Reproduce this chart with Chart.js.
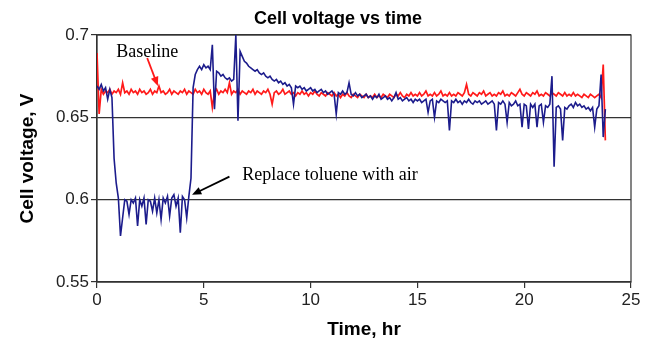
<!DOCTYPE html>
<html>
<head>
<meta charset="utf-8">
<script src="https://cdn.jsdelivr.net/npm/chart.js@4/dist/chart.umd.min.js"></script>
<style>
  html, body { margin: 0; padding: 0; background: #fff; }
  #wrap { width: 656px; height: 342px; }
</style>
</head>
<body>
<div id="wrap"><canvas id="cellChart" width="656" height="342"></canvas></div>
<script>
// sampling step of the readings, hours
const STEP = 0.1;

// toluene run (blue), one reading per 0.1 hr from t = 0
const tolueneV = [
  0.669, 0.667, 0.670, 0.666, 0.668, 0.661, 0.667, 0.662, 0.625, 0.610,
  0.601, 0.578, 0.589, 0.600, 0.599, 0.591, 0.600, 0.598, 0.601, 0.584,
  0.600, 0.596, 0.601, 0.585, 0.600, 0.599, 0.593, 0.601, 0.592, 0.600,
  0.588, 0.601, 0.598, 0.602, 0.590, 0.601, 0.603, 0.596, 0.601, 0.580,
  0.602, 0.600, 0.589, 0.602, 0.613, 0.668, 0.676, 0.679, 0.681, 0.679,
  0.682, 0.680, 0.681, 0.679, 0.694, 0.655, 0.678, 0.677, 0.675, 0.676,
  0.674, 0.673, 0.674, 0.672, 0.673, 0.700, 0.648, 0.690, 0.687, 0.684,
  0.683, 0.681, 0.680, 0.679, 0.678, 0.679, 0.677, 0.676, 0.677, 0.675,
  0.674, 0.675, 0.673, 0.672, 0.673, 0.671, 0.672, 0.670, 0.671, 0.669,
  0.670, 0.668, 0.658, 0.669, 0.668, 0.669, 0.667, 0.668, 0.666, 0.667,
  0.668, 0.666, 0.667, 0.665, 0.666, 0.667, 0.665, 0.666, 0.664, 0.665,
  0.666, 0.664, 0.652, 0.665, 0.664, 0.666, 0.664, 0.665, 0.671, 0.664,
  0.663, 0.665, 0.663, 0.664, 0.662, 0.663, 0.664, 0.662, 0.663, 0.661,
  0.663, 0.662, 0.664, 0.661, 0.662, 0.663, 0.661, 0.662, 0.660, 0.662,
  0.665, 0.661, 0.662, 0.660, 0.661, 0.662, 0.660, 0.661, 0.659, 0.661,
  0.660, 0.661, 0.659, 0.660, 0.661, 0.653, 0.660, 0.661, 0.650, 0.660,
  0.659, 0.661, 0.660, 0.659, 0.660, 0.642, 0.660, 0.659, 0.661, 0.659,
  0.660, 0.658, 0.660, 0.659, 0.661, 0.659, 0.658, 0.660, 0.659, 0.660,
  0.658, 0.659, 0.660, 0.658, 0.659, 0.660, 0.658, 0.642, 0.659, 0.658,
  0.660, 0.658, 0.647, 0.659, 0.657, 0.658, 0.660, 0.657, 0.658, 0.644,
  0.658, 0.657, 0.643, 0.658, 0.656, 0.658, 0.644, 0.657, 0.658, 0.647,
  0.657, 0.656, 0.658, 0.675, 0.620, 0.656, 0.657, 0.655, 0.636, 0.656,
  0.655, 0.657, 0.658, 0.656, 0.659, 0.657, 0.658, 0.656, 0.657, 0.655,
  0.656, 0.654, 0.656, 0.644, 0.655, 0.657, 0.676, 0.638, 0.655
];

// baseline run (red), same time grid
const baselineV = [
  0.689, 0.652, 0.667, 0.664, 0.666, 0.665, 0.667, 0.664, 0.666, 0.665,
  0.667, 0.664, 0.671, 0.665, 0.666, 0.664, 0.667, 0.665, 0.666, 0.664,
  0.667, 0.665, 0.666, 0.664, 0.665, 0.667, 0.664, 0.666, 0.665, 0.669,
  0.665, 0.666, 0.664, 0.665, 0.667, 0.664, 0.666, 0.665, 0.664, 0.666,
  0.665, 0.667, 0.664, 0.666, 0.665, 0.664, 0.667, 0.665, 0.666, 0.664,
  0.667, 0.665, 0.664, 0.666, 0.656, 0.665, 0.667, 0.664, 0.666, 0.665,
  0.667, 0.665, 0.671, 0.664, 0.666, 0.665, 0.667, 0.664, 0.666, 0.665,
  0.664, 0.666, 0.665, 0.667, 0.664, 0.666, 0.665, 0.664, 0.666, 0.665,
  0.667, 0.664, 0.658, 0.665, 0.666, 0.664, 0.665, 0.667, 0.664, 0.665,
  0.666, 0.664, 0.665, 0.663, 0.665, 0.664, 0.666, 0.664, 0.665, 0.663,
  0.665, 0.664, 0.666, 0.664, 0.663, 0.665, 0.664, 0.663, 0.665, 0.664,
  0.663, 0.665, 0.663, 0.664, 0.662, 0.664, 0.663, 0.665, 0.663, 0.662,
  0.664, 0.663, 0.662, 0.664, 0.663, 0.662, 0.664, 0.662, 0.663, 0.662,
  0.664, 0.662, 0.663, 0.662, 0.664, 0.663, 0.662, 0.664, 0.663, 0.662,
  0.664, 0.663, 0.665, 0.663, 0.662, 0.664, 0.663, 0.665, 0.663, 0.664,
  0.663, 0.665, 0.663, 0.664, 0.666, 0.663, 0.664, 0.663, 0.665, 0.663,
  0.664, 0.666, 0.663, 0.664, 0.663, 0.665, 0.663, 0.664, 0.663, 0.665,
  0.664, 0.663, 0.665, 0.670, 0.664, 0.663, 0.665, 0.664, 0.663, 0.665,
  0.664, 0.666, 0.663, 0.664, 0.665, 0.663, 0.664, 0.663, 0.665, 0.664,
  0.666, 0.663, 0.664, 0.663, 0.665, 0.664, 0.663, 0.665, 0.667, 0.664,
  0.663, 0.665, 0.664, 0.663, 0.665, 0.664, 0.666, 0.663, 0.664, 0.663,
  0.665, 0.664, 0.663, 0.665, 0.664, 0.663, 0.665, 0.664, 0.663, 0.665,
  0.663, 0.664, 0.663, 0.665, 0.663, 0.664, 0.663, 0.662, 0.664, 0.663,
  0.662, 0.664, 0.663, 0.662, 0.663, 0.664, 0.662, 0.682, 0.636
];

const yTicks = [0.55, 0.6, 0.65, 0.7];
const yTickLabels = ['0.55', '0.6', '0.65', '0.7'];
const xTicks = [0, 5, 10, 15, 20, 25];

const times = tolueneV.map((v, i) => +(i * STEP).toFixed(1));
const toPoints = vals => vals.map((v, i) => ({ x: times[i], y: v }));

// notes on the plot, given in data units
const notes = [
  { text: 'Baseline', at: [0.9, 0.6867], from: [2.35, 0.6860], to: [2.85, 0.6690], color: '#ff1a1a' },
  { text: 'Replace toluene with air', at: [6.8, 0.6121], from: [6.2, 0.6140], to: [4.45, 0.6030], color: '#000' }
];

const frame = {
  id: 'frame',
  beforeDatasetsDraw(chart) {
    const { ctx, chartArea: a } = chart;
    ctx.save();
    ctx.strokeStyle = '#333';
    ctx.lineWidth = 1.2;
    ctx.strokeRect(a.left, a.top, a.right - a.left, a.bottom - a.top);
    ctx.restore();
  },
  afterDraw(chart) {
    const { ctx } = chart;
    const xs = chart.scales.x, ys = chart.scales.y;
    const a = chart.chartArea;
    ctx.save();
    // titles
    ctx.fillStyle = '#000';
    ctx.textAlign = 'center';
    ctx.textBaseline = 'alphabetic';
    ctx.font = 'bold 18px "Liberation Sans", Arial, sans-serif';
    ctx.fillText('Cell voltage vs time', 338, 24);
    ctx.font = 'bold 19px "Liberation Sans", Arial, sans-serif';
    ctx.fillText('Time, hr', (a.left + a.right) / 2, 335);
    ctx.save();
    ctx.translate(33, (a.top + a.bottom) / 2);
    ctx.rotate(-Math.PI / 2);
    ctx.fillText('Cell voltage, V', 0, 0);
    ctx.restore();

    // annotations
    ctx.font = '18px "Liberation Serif", "Times New Roman", serif';
    ctx.textAlign = 'left';
    notes.forEach(n => {
      ctx.fillStyle = '#000';
      ctx.fillText(n.text, xs.getPixelForValue(n.at[0]), ys.getPixelForValue(n.at[1]));
      const x0 = xs.getPixelForValue(n.from[0]), y0 = ys.getPixelForValue(n.from[1]);
      const x1 = xs.getPixelForValue(n.to[0]), y1 = ys.getPixelForValue(n.to[1]);
      const ang = Math.atan2(y1 - y0, x1 - x0);
      const head = 10;
      ctx.strokeStyle = n.color;
      ctx.fillStyle = n.color;
      ctx.lineWidth = 1.8;
      ctx.beginPath();
      ctx.moveTo(x0, y0);
      ctx.lineTo(x1 - Math.cos(ang) * head * 0.8, y1 - Math.sin(ang) * head * 0.8);
      ctx.stroke();
      ctx.beginPath();
      ctx.moveTo(x1, y1);
      ctx.lineTo(x1 - head * Math.cos(ang - 0.4), y1 - head * Math.sin(ang - 0.4));
      ctx.lineTo(x1 - head * Math.cos(ang + 0.4), y1 - head * Math.sin(ang + 0.4));
      ctx.closePath();
      ctx.fill();
    });
    ctx.restore();
  }
};

new Chart(document.getElementById('cellChart'), {
  type: 'line',
  data: {
    datasets: [
      {
        label: 'Toluene',
        data: toPoints(tolueneV),
        borderColor: '#1c1c8c',
        borderWidth: 1.6,
        pointRadius: 0,
        tension: 0
      },
      {
        label: 'Baseline',
        data: toPoints(baselineV),
        borderColor: '#ff1a1a',
        borderWidth: 1.7,
        pointRadius: 0,
        tension: 0
      }
    ]
  },
  options: {
    responsive: false,
    animation: false,
    layout: { padding: { top: 35, right: 25, left: 0, bottom: 0 } },
    plugins: {
      legend: { display: false },
      tooltip: { enabled: false },
      title: { display: false }
    },
    scales: {
      x: {
        type: 'linear',
        min: 0,
        max: 25,
        afterBuildTicks: s => { s.ticks = xTicks.map(v => ({ value: v })); },
        afterFit: s => { s.height = 60; },
        grid: { drawOnChartArea: false, drawTicks: true, tickLength: 6, color: '#333', lineWidth: 1.2 },
        border: { display: true, color: '#333', width: 1.2 },
        ticks: {
          color: '#222',
          padding: 2,
          maxRotation: 0,
          font: { family: '"Liberation Sans", Arial, sans-serif', size: 17 }
        }
      },
      y: {
        min: 0.55,
        max: 0.7,
        afterBuildTicks: s => { s.ticks = yTicks.map(v => ({ value: v })); },
        afterFit: s => { s.width = 97; },
        grid: { drawOnChartArea: true, drawTicks: true, tickLength: 6, color: '#333', lineWidth: 1.2 },
        border: { display: true, color: '#333', width: 1.2 },
        ticks: {
          color: '#222',
          padding: 2,
          font: { family: '"Liberation Sans", Arial, sans-serif', size: 17 },
          callback: v => yTickLabels[yTicks.findIndex(t => Math.abs(t - v) < 1e-6)]
        }
      }
    }
  },
  plugins: [frame]
});
</script>
</body>
</html>
